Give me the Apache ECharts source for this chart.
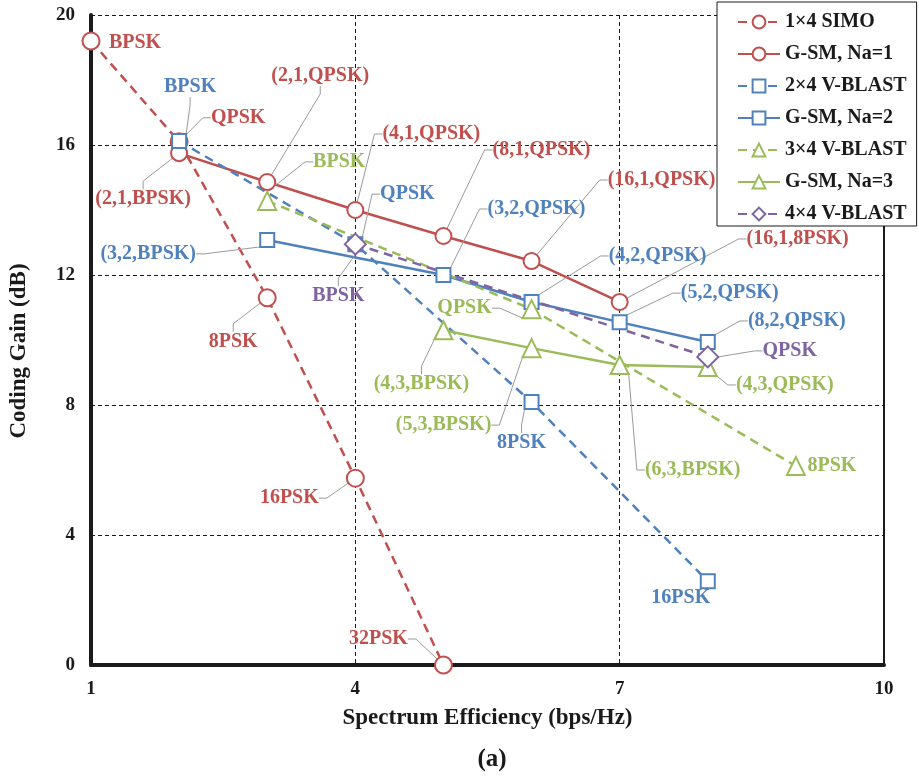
<!DOCTYPE html>
<html>
<head>
<meta charset="utf-8">
<script src="https://cdn.jsdelivr.net/npm/echarts@6/dist/echarts.min.js"></script>
<style>html,body{margin:0;padding:0;background:#fff}#c{width:919px;height:778px}</style>
</head>
<body>
<div id="c"></div>
<script>
// ---------- data ----------
const xTicks = [1, 4, 7, 10];
const yTicks = [0, 4, 8, 12, 16, 20];

const simoX = [1, 2, 3, 4, 5];
const simoY = [19.2, 16.1, 11.3, 5.75, 0];
const simoLabels = ['BPSK', 'QPSK', '8PSK', '16PSK', '32PSK'];

const gsm1X = [2, 3, 4, 5, 6, 7];
const gsm1Y = [15.75, 14.86, 14.0, 13.2, 12.43, 11.17];
const gsm1Labels = ['(2,1,BPSK)', '(2,1,QPSK)', '(4,1,QPSK)', '(8,1,QPSK)', '(16,1,QPSK)', '(16,1,8PSK)'];

const vb2X = [2, 4, 6, 8];
const vb2Y = [16.12, 12.95, 8.09, 2.58];
const vb2Labels = ['BPSK', 'QPSK', '8PSK', '16PSK'];

const gsm2X = [3, 5, 6, 7, 8];
const gsm2Y = [13.08, 12.0, 11.17, 10.55, 9.94];
const gsm2Labels = ['(3,2,BPSK)', '(3,2,QPSK)', '(4,2,QPSK)', '(5,2,QPSK)', '(8,2,QPSK)'];

const vb3X = [3, 6, 9];
const vb3Y = [14.28, 10.95, 6.12];
const vb3Labels = ['BPSK', 'QPSK', '8PSK'];

const gsm3X = [5, 6, 7, 8];
const gsm3Y = [10.3, 9.75, 9.23, 9.17];
const gsm3Labels = ['(4,3,BPSK)', '(5,3,BPSK)', '(6,3,BPSK)', '(4,3,QPSK)'];

const vb4X = [4, 8];
const vb4Y = [12.95, 9.48];
const vb4Labels = ['BPSK', 'QPSK'];

// ---------- label placement (offset of label centre from its point, px; 3rd = leader line) ----------
const simoOff = [[44, 2, 0], [59, -24, 1], [-34, 44, 1], [-66, 20, 1], [-65, -26, 1]];
const gsm1Off = [[-36, 46, 1], [53, -106, 1], [76, -76, 1], [98, -86, 1], [130, -81, 1], [178, -63, 1]];
const vb2Off = [[11, -54, 1], [52, -50, 1], [-10, 41, 1], [-27, 17, 0]];
const gsm2Off = [[-119, 14, 1], [93, -66, 1], [126, -46, 1], [110, -29, 1], [89, -21, 1]];
const vb3Off = [[72, -39, 1], [-67, -1, 1], [36, 0, 0]];
const gsm3Off = [[-22, 54, 1], [-88, 77, 1], [73, 105, 1], [77, 18, 1]];
const vb4Off = [[-17, 52, 1], [82, -6, 1]];

const RED = '#C0504D', BLUE = '#4F81BD', GREEN = '#9BBB59', PURPLE = '#8064A2';
const FONT = '"Liberation Serif", "Times New Roman", serif';
const INK = '#1a1a1a';

function mk(name, xs, ys, labels, offs, color, dashed, symbol, size) {
  const data = xs.map((x, i) => ({
    value: [x, ys[i]],
    labelLine: { show: !!offs[i][2] }
  }));
  return {
    name: name,
    type: 'line',
    data: data,
    symbol: symbol,
    symbolSize: size,
    showAllSymbol: true,
    lineStyle: { color: color, width: 2.5, type: dashed ? [9, 6] : 'solid' },
    itemStyle: { color: color, borderColor: color, borderWidth: 3 },
    label: {
      show: true,
      formatter: p => labels[p.dataIndex],
      color: color,
      fontFamily: FONT,
      fontWeight: 'bold',
      fontSize: 20
    },
    labelLine: {
      show: true,
      length2: 8,
      lineStyle: { color: '#9a9a9a', width: 1 }
    },
    labelLayout: function (p) {
      const o = offs[p.dataIndex];
      return {
        x: p.rect.x + p.rect.width / 2 + o[0],
        y: p.rect.y + p.rect.height / 2 + o[1],
        align: 'center',
        verticalAlign: 'middle'
      };
    },
    emphasis: { disabled: true },
    animation: false
  };
}

const series = [
  mk('1×4 SIMO', simoX, simoY, simoLabels, simoOff, RED, true, 'emptyCircle', 17),
  mk('G-SM, Na=1', gsm1X, gsm1Y, gsm1Labels, gsm1Off, RED, false, 'emptyCircle', 16),
  mk('2×4 V-BLAST', vb2X, vb2Y, vb2Labels, vb2Off, BLUE, true, 'emptyRect', 14),
  mk('G-SM, Na=2', gsm2X, gsm2Y, gsm2Labels, gsm2Off, BLUE, false, 'emptyRect', 14),
  mk('3×4 V-BLAST', vb3X, vb3Y, vb3Labels, vb3Off, GREEN, true, 'emptyTriangle', 18),
  mk('G-SM, Na=3', gsm3X, gsm3Y, gsm3Labels, gsm3Off, GREEN, false, 'emptyTriangle', 18),
  mk('4×4 V-BLAST', vb4X, vb4Y, vb4Labels, vb4Off, PURPLE, true, 'emptyDiamond', 21)
];

const chart = echarts.init(document.getElementById('c'), null, { renderer: 'canvas' });
chart.setOption({
  backgroundColor: '#fff',
  animation: false,
  grid: { left: 88, right: 35, top: 15, bottom: 113, containLabel: false },
  xAxis: {
    type: 'value',
    min: xTicks[0], max: xTicks[xTicks.length - 1], interval: xTicks[1] - xTicks[0],
    name: 'Spectrum Efficiency (bps/Hz)',
    nameLocation: 'middle', nameGap: 42,
    nameTextStyle: { fontFamily: FONT, fontWeight: 'bold', fontSize: 23, color: INK },
    axisLine: { show: true, onZero: false, lineStyle: { color: INK, width: 4 } },
    axisTick: { show: false },
    axisLabel: { fontFamily: FONT, fontWeight: 'bold', fontSize: 19, color: INK, margin: 15 },
    splitLine: { show: true, lineStyle: { color: INK, width: 1, type: [4, 3] } }
  },
  yAxis: [{
    type: 'value',
    min: yTicks[0], max: yTicks[yTicks.length - 1], interval: yTicks[1] - yTicks[0],
    name: 'Coding Gain (dB)',
    nameLocation: 'middle', nameGap: 60, nameRotate: 90,
    nameTextStyle: { fontFamily: FONT, fontWeight: 'bold', fontSize: 23, color: INK, padding: [0, 22, 0, 0] },
    axisLine: { show: true, onZero: false, lineStyle: { color: INK, width: 4 } },
    axisTick: { show: false },
    axisLabel: { fontFamily: FONT, fontWeight: 'bold', fontSize: 19, color: INK, margin: 16 },
    splitLine: { show: true, lineStyle: { color: INK, width: 1, type: [4, 3] } }
  }, {
    type: 'value', position: 'right',
    min: yTicks[0], max: yTicks[yTicks.length - 1],
    axisLine: { show: true, lineStyle: { color: INK, width: 2 } },
    axisTick: { show: false }, axisLabel: { show: false }, splitLine: { show: false }
  }],
  legend: {
    orient: 'vertical',
    left: 717, top: 2,
    padding: [10, 10, 2, 20],
    itemWidth: 42, itemHeight: 16, itemGap: 12,
    backgroundColor: '#fff',
    borderColor: INK, borderWidth: 1,
    textStyle: { fontFamily: FONT, fontWeight: 'bold', fontSize: 20, color: INK },
    data: series.map(s => s.name)
  },
  graphic: [{
    type: 'text', x: 492, y: 760,
    style: { text: '(a)', fontFamily: FONT, fontWeight: 'bold', fontSize: 25, fill: INK, align: 'center', verticalAlign: 'middle' }
  }],
  series: series
});
</script>
</body>
</html>
